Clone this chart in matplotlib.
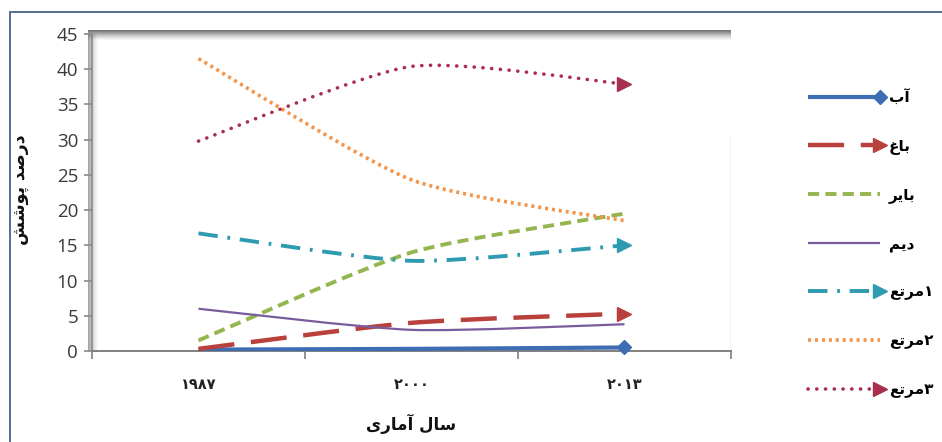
import matplotlib

matplotlib.use("Agg")
import matplotlib.pyplot as plt
from matplotlib.legend_handler import HandlerLine2D
from matplotlib.lines import Line2D
from matplotlib.patches import PathPatch, Rectangle
from matplotlib.path import Path

# ---- data ----
YEARS = ["۱۹۸۷", "۲۰۰۰", "۲۰۱۳"]
AB = [0.2, 0.3, 0.5]
BAGH = [0.3, 4.0, 5.3]
BAYER = [1.5, 14.0, 19.5]
DEYM = [6.0, 3.0, 3.8]
MARTA1 = [16.7, 12.8, 15.0]
MARTA2 = [41.5, 24.3, 18.5]
MARTA3 = [29.8, 40.4, 37.9]
LABELS = ["آب", "باغ", "بایر", "دیم", "مرتع۱", "مرتع۲", "مرتع۳"]
Y_LABEL = "درصد پوشش"
X_LABEL = "سال آماری"

# ---- styles: colour, width (pt), dash (pt) or None, capstyle, end marker ----
STYLES = [
    ("#3D6DB3", 3.0, None, "butt", ("D", 7)),
    ("#B8413E", 3.2, (26, 12), "butt", (">", 10)),
    ("#94B64E", 2.8, (8, 4.5), "butt", None),
    ("#7A5C9E", 1.6, None, "butt", None),
    ("#2E9BB0", 2.8, (14, 7, 2, 7), "butt", (">", 10)),
    ("#F39449", 2.6, (2.2, 2.8), "butt", None),
    ("#A8304E", 2.6, (0.1, 6.2), "round", (">", 10)),
]
SMOOTH = 1 / 9  # control-point factor of the smoothed lines

# ---- minimal Arabic shaping (matplotlib draws no joined / RTL text) ----
FORMS = {
    "\u0622": ("\ufe81", "\ufe82"),
    "\u0627": ("\ufe8d", "\ufe8e"),
    "\u062f": ("\ufea9", "\ufeaa"),
    "\u0631": ("\ufead", "\ufeae"),
    "\u0648": ("\ufeed", "\ufeee"),
    "\u0628": ("\ufe8f", "\ufe90", "\ufe91", "\ufe92"),
    "\u067e": ("\ufb56", "\ufb57", "\ufb58", "\ufb59"),
    "\u062a": ("\ufe95", "\ufe96", "\ufe97", "\ufe98"),
    "\u0633": ("\ufeb1", "\ufeb2", "\ufeb3", "\ufeb4"),
    "\u0634": ("\ufeb5", "\ufeb6", "\ufeb7", "\ufeb8"),
    "\u0635": ("\ufeb9", "\ufeba", "\ufebb", "\ufebc"),
    "\u0639": ("\ufec9", "\ufeca", "\ufecb", "\ufecc"),
    "\u063a": ("\ufecd", "\ufece", "\ufecf", "\ufed0"),
    "\u0644": ("\ufedd", "\ufede", "\ufedf", "\ufee0"),
    "\u0645": ("\ufee1", "\ufee2", "\ufee3", "\ufee4"),
    "\u06cc": ("\ufbfc", "\ufbfd", "\ufbfe", "\ufbff"),
}
DIGITS = "۰۱۲۳۴۵۶۷۸۹0123456789"


def fa(text):
    def joins_next(ch):
        return ch in FORMS and len(FORMS[ch]) == 4

    shaped = []
    for i, ch in enumerate(text):
        if ch not in FORMS:
            shaped.append(ch)
            continue
        prev = text[i - 1] if i > 0 else ""
        nxt = text[i + 1] if i + 1 < len(text) else ""
        lp = joins_next(prev)
        ln = joins_next(ch) and nxt in FORMS
        f = FORMS[ch]
        shaped.append(f[3] if lp and ln else f[1] if lp else f[2] if ln else f[0])
    # visual order: reverse each run of letters, keep digit runs as they are
    runs, cur, cur_digit = [], "", None
    for ch in shaped:
        d = ch in DIGITS
        if cur and d != cur_digit:
            runs.append(cur if cur_digit else cur[::-1])
            cur = ""
        cur += ch
        cur_digit = d
    if cur:
        runs.append(cur if cur_digit else cur[::-1])
    return "".join(runs)


def smooth_path(xs, ys):
    """Excel-like smoothed line as cubic Bezier segments."""
    pts = list(zip(xs, ys))
    n = len(pts)
    verts, codes = [pts[0]], [Path.MOVETO]
    for i in range(n - 1):
        p0 = pts[max(i - 1, 0)]
        p1, p2 = pts[i], pts[i + 1]
        p3 = pts[min(i + 2, n - 1)]
        c1 = (p1[0] + (p2[0] - p0[0]) * SMOOTH, p1[1] + (p2[1] - p0[1]) * SMOOTH)
        c2 = (p2[0] - (p3[0] - p1[0]) * SMOOTH, p2[1] - (p3[1] - p1[1]) * SMOOTH)
        verts += [c1, c2, p2]
        codes += [Path.CURVE4] * 3
    return Path(verts, codes)


class EndMarkerHandler(HandlerLine2D):
    def create_artists(self, *args, **kwargs):
        artists = super().create_artists(*args, **kwargs)
        for a in artists:
            a.set_markevery([len(a.get_xdata()) - 1])
        return artists


plt.rcParams["lines.scale_dashes"] = False
plt.rcParams["font.family"] = ["DejaVu Sans"]

W, H = 942, 442
fig = plt.figure(figsize=(W / 100, H / 100), dpi=100)
ax = fig.add_axes([92 / W, 1 - 351 / H, 639 / W, 317 / H])

series = [AB, BAGH, BAYER, DEYM, MARTA1, MARTA2, MARTA3]
xs = list(range(len(YEARS)))
handles = []
for vals, (color, lw, dash, cap, marker) in zip(series, STYLES):
    patch = PathPatch(smooth_path(xs, vals), fill=False, edgecolor=color, lw=lw,
                      capstyle=cap, zorder=3)
    if dash is not None:
        patch.set_linestyle((0, dash))
    ax.add_patch(patch)
    if marker is not None:
        ax.plot(xs[-1], vals[-1], marker=marker[0], ms=marker[1], color=color,
                mec=color, zorder=4, clip_on=False)
    h = Line2D([], [], color=color, lw=lw, solid_capstyle=cap, dash_capstyle=cap,
               linestyle=(0, dash) if dash is not None else "-",
               marker=marker[0] if marker else None, ms=marker[1] if marker else 0)
    handles.append(h)

ax.set_xlim(-0.5, 2.5)
ax.set_ylim(0, 45)
ax.set_yticks(range(0, 46, 5))
ax.set_xticks(xs)
ax.set_xticklabels(YEARS, fontsize=10.5, fontweight="bold", color="#222222")
ax.set_xticks([-0.5, 0.5, 1.5, 2.5], minor=True)
ax.tick_params(axis="x", which="major", length=0, pad=19)
ax.tick_params(axis="x", which="minor", length=6, width=1.2, color="#808080", direction="out")
ax.tick_params(axis="y", length=6, width=1.2, color="#8a8a8a", pad=4, labelsize=13.5,
               labelcolor="#3a3a3a")
for lab in ax.get_yticklabels():
    lab.set_fontfamily(["Open Sans", "DejaVu Sans"])
for side in ("top", "right"):
    ax.spines[side].set_visible(False)
ax.spines["left"].set_color("#8a8a8a")
ax.spines["left"].set_linewidth(1.2)
ax.spines["bottom"].set_color("#808080")
ax.spines["bottom"].set_linewidth(1.4)

# inner shadow along the top and left edge of the plot area
steps = 10
for i in range(steps):
    a = (1 - i / steps) ** 1.3
    ax.add_patch(Rectangle((-4 / 639, 1 + (4 - i - 1) / 317), 643 / 639, 1.0 / 317,
                           transform=ax.transAxes, color="#5a5a5a", alpha=0.85 * a, lw=0,
                           clip_on=False, zorder=1))
    ax.add_patch(Rectangle((-4 / 639 + i * 1.0 / 639, 0), 1.0 / 639, 1,
                           transform=ax.transAxes, color="#6a6a6a", alpha=0.6 * a, lw=0,
                           clip_on=False, zorder=1))

# thin orange line at the right edge of the plot
ax.axvline(2.5, ymin=0, ymax=30.7 / 45, color="#F2B36A", lw=1.0, zorder=2)

fig.text(20 / W, 1 - 190 / H, fa(Y_LABEL), rotation=90, ha="center", va="center",
         fontsize=12.5, fontweight="bold", color="#111111")
fig.text(411 / W, 1 - 424 / H, fa(X_LABEL), ha="center", va="center",
         fontsize=12, fontweight="bold", color="#111111")

fig.legend(handles, [fa(s) for s in LABELS], loc="upper left",
           bbox_to_anchor=(794 / W, 1 - 76 / H), frameon=False,
           prop={"size": 11, "weight": "bold"}, handlelength=4.7, handletextpad=0.6,
           labelspacing=2.15, numpoints=1,
           handler_map={Line2D: EndMarkerHandler(numpoints=1)})

# outer chart border
fig.add_artist(Rectangle((10 / W, -0.05), 1.0, 1 - 12 / H + 0.05, transform=fig.transFigure,
                         fill=False, edgecolor="#52708f", lw=1.4))

fig.savefig("out.png", dpi=100)
